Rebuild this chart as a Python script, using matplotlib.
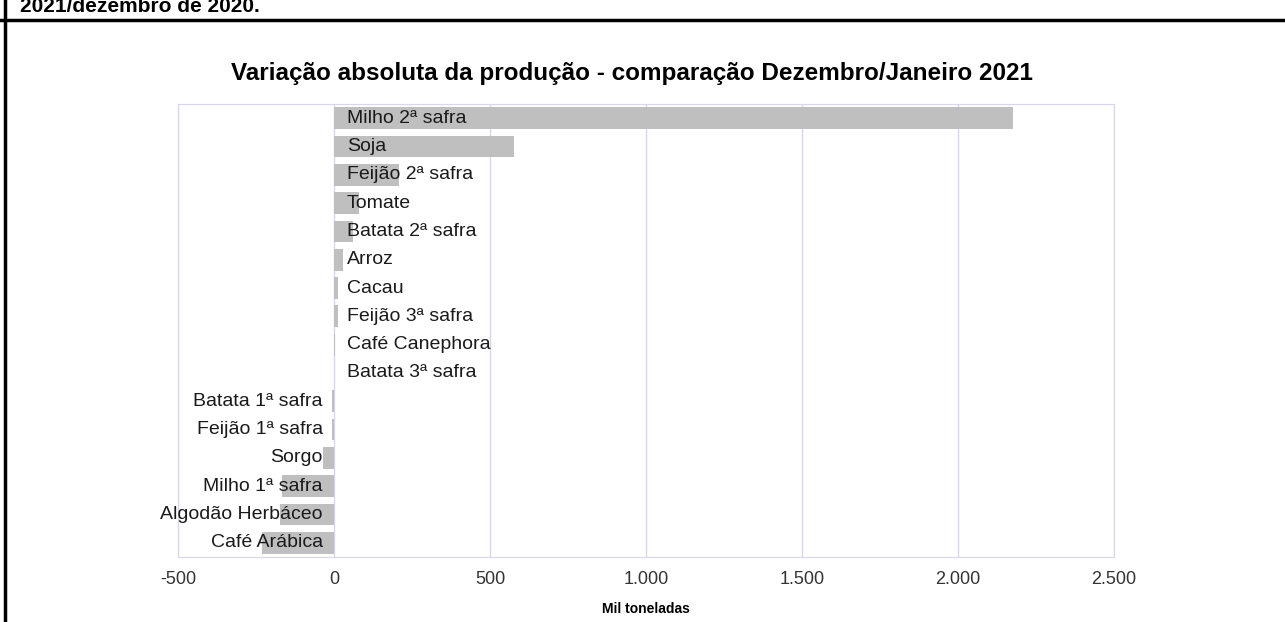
import matplotlib.pyplot as plt
from matplotlib.lines import Line2D
from matplotlib.ticker import FuncFormatter

categories = [
    "Milho 2ª safra", "Soja", "Feijão 2ª safra", "Tomate", "Batata 2ª safra",
    "Arroz", "Cacau", "Feijão 3ª safra", "Café Canephora", "Batata 3ª safra",
    "Batata 1ª safra", "Feijão 1ª safra", "Sorgo", "Milho 1ª safra",
    "Algodão Herbáceo", "Café Arábica",
]
values = [2176, 577, 208, 80, 61, 29, 13, 12, 3, 1, -5, -6, -35, -167, -173, -231]
x_ticks = [-500, 0, 500, 1000, 1500, 2000, 2500]

plt.rcParams["font.family"] = ["Liberation Sans", "DejaVu Sans"]

fig = plt.figure(figsize=(12.85, 6.22), dpi=100)
ax = fig.add_axes([178 / 1285, 1 - 557 / 622, (1114 - 178) / 1285, (557 - 104) / 622])

y = list(range(len(categories)))
ax.barh(y, values, height=0.77, color="#bfbfbf", zorder=2)

for yi, (cat, val) in enumerate(zip(categories, values)):
    if val >= 0:
        ax.annotate(cat, (0, yi), xytext=(9.4, 0), textcoords="offset points",
                    ha="left", va="center", fontsize=14, color="#1a1a1a", zorder=3)
    else:
        ax.annotate(cat, (0, yi), xytext=(-8, 0), textcoords="offset points",
                    ha="right", va="center", fontsize=14, color="#1a1a1a", zorder=3)

ax.set_xlim(-500, 2500)
ax.set_ylim(len(categories) - 0.5, -0.5)
ax.set_xticks(x_ticks)
ax.xaxis.set_major_formatter(FuncFormatter(lambda v, p: f"{int(v):,}".replace(",", ".")))
ax.set_yticks([])
ax.tick_params(axis="x", length=0, labelsize=13, pad=10, colors="#333333")
ax.grid(True, axis="x", color="#d6d6ee", linewidth=1, zorder=0)
for s in ax.spines.values():
    s.set_color("#d6d6ee")

ax.set_xlabel("Mil toneladas", fontsize=10, fontweight="bold", labelpad=10)
ax.set_title("Variação absoluta da produção - comparação Dezembro/Janeiro 2021",
             fontsize=17.5, fontweight="bold", pad=17, x=0.485)

# page frame fragments
fig.add_artist(Line2D([0, 1], [1 - 20 / 622, 1 - 20 / 622], color="black", linewidth=2.5,
                      transform=fig.transFigure))
fig.add_artist(Line2D([5 / 1285, 5 / 1285], [0, 1], color="black", linewidth=2.5,
                      transform=fig.transFigure))
fig.text(20 / 1285, 1 - 12 / 622, "2021/dezembro de 2020.", fontsize=15, fontweight="bold",
         va="baseline", ha="left")

fig.savefig("out.png", dpi=100)
